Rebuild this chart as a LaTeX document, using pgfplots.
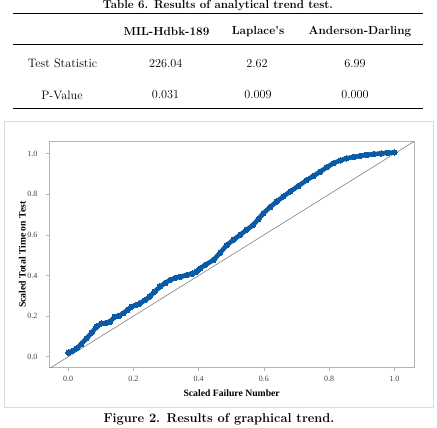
\documentclass[border=0pt]{standalone}
\usepackage{fontspec}
\setmainfont{Liberation Serif}
\newfontfamily\tabfont{Latin Modern Roman}
\usepackage{pgfplots}
\pgfplotsset{compat=1.18}
\definecolor{dotblue}{HTML}{0B5AA5}
\definecolor{framegray}{HTML}{B4B4B4}
\definecolor{boxgray}{HTML}{DADADA}
\definecolor{ticktext}{HTML}{404040}

\begin{document}
\begin{tikzpicture}
\useasboundingbox (0,0) rectangle (437bp,-428bp);

% ---- Table 6 ----
\node[font=\tabfont\bfseries\fontsize{11.5bp}{13bp}\selectfont, anchor=base] at (218bp,-8bp) {Table 6. Results of analytical trend test.};
\draw[line width=1.3bp] (13bp,-13.5bp) -- (423bp,-13.5bp);
\begin{scope}[every node/.style={font=\tabfont\bfseries\fontsize{11.7bp}{13bp}\selectfont, anchor=center}]
  \node at (166.5bp,-31.7bp) {MIL-Hdbk-189};
  \node at (258bp,-31.7bp) {Laplace's};
  \node at (360bp,-31.7bp) {Anderson-Darling};
\end{scope}
\draw[line width=0.9bp] (13bp,-44bp) -- (423bp,-44bp);
\begin{scope}[every node/.style={font=\tabfont\fontsize{12.2bp}{13bp}\selectfont, anchor=center}]
  \node at (62.5bp,-63.3bp) {Test Statistic};
  \node at (165.7bp,-63.3bp) {226.04};
  \node at (257bp,-63.3bp) {2.62};
  \node at (355bp,-63.3bp) {6.99};
  \node at (62bp,-95bp) {P-Value};
  \node at (165.5bp,-95bp) {0.031};
  \node at (258bp,-95bp) {0.009};
  \node at (355bp,-95bp) {0.000};
\end{scope}
\draw[line width=1.3bp] (13bp,-108.3bp) -- (423bp,-108.3bp);

% ---- Figure 2 frame ----
\draw[boxgray, line width=0.8bp] (4bp,-121bp) rectangle (433.5bp,-407bp);

\begin{axis}[
  at={(49.3bp,-367.7bp)}, anchor=south west,
  scale only axis, width=364.7bp, height=226bp,
  xmin=-0.058, xmax=1.060, ymin=-0.054, ymax=1.059,
  xtick={0,0.2,...,1.0}, ytick={0,0.2,...,1.0},
  /pgf/number format/.cd, fixed, fixed zerofill, precision=1, assume math mode=true,
  /pgfplots/.cd,
  tick align=outside, xtick pos=bottom, ytick pos=left,
  major tick length=3.5bp,
  tick style={framegray, line width=0.8bp},
  axis line style={framegray, line width=1bp},
  ticklabel style={font=\fontsize{8bp}{9bp}\selectfont, text=ticktext},
  yticklabel style={xshift=-5bp},
  xticklabel style={yshift=-1bp},
  xlabel={Scaled Failure Number},
  ylabel={Scaled Total Time on Test},
  every axis x label/.style={at={(axis description cs:0.5,0)}, yshift=-25bp, anchor=center, font=\bfseries\fontsize{9.7bp}{11bp}\selectfont},
  every axis y label/.style={at={(axis description cs:0,0.5)}, xshift=-27bp, rotate=90, anchor=center, font=\bfseries\fontsize{9.7bp}{11bp}\selectfont},
  clip=true,
]
% reference diagonal
\addplot[gray, line width=0.6bp] coordinates {(-0.07,-0.07) (1.07,1.07)};
% scaled total time on test
\addplot[dotblue, line width=4.6bp, line join=round, line cap=round, mark=*, mark size=2.7bp, mark options={fill=dotblue, draw=dotblue, line width=0pt}] table {
x y
0.000 0.020
0.012 0.028
0.026 0.041
0.040 0.062
0.056 0.090
0.072 0.118
0.087 0.148
0.102 0.164
0.115 0.166
0.128 0.172
0.143 0.197
0.156 0.202
0.169 0.214
0.182 0.230
0.194 0.246
0.207 0.254
0.220 0.263
0.235 0.278
0.250 0.296
0.265 0.320
0.281 0.345
0.297 0.362
0.312 0.378
0.328 0.388
0.343 0.394
0.363 0.402
0.380 0.409
0.394 0.419
0.404 0.435
0.420 0.452
0.445 0.476
0.466 0.512
0.486 0.550
0.507 0.576
0.527 0.600
0.547 0.625
0.567 0.649
0.583 0.678
0.598 0.706
0.619 0.737
0.639 0.764
0.660 0.790
0.680 0.813
0.705 0.840
0.731 0.870
0.752 0.890
0.772 0.911
0.793 0.933
0.813 0.953
0.834 0.967
0.854 0.977
0.875 0.984
0.895 0.989
0.915 0.994
0.936 0.998
0.960 1.001
0.980 1.004
1.000 1.006
};
\end{axis}

\node[font=\tabfont\bfseries\fontsize{12.8bp}{14bp}\selectfont, anchor=center] at (219bp,-419bp) {Figure 2. Results of graphical trend.};
\end{tikzpicture}
\end{document}
